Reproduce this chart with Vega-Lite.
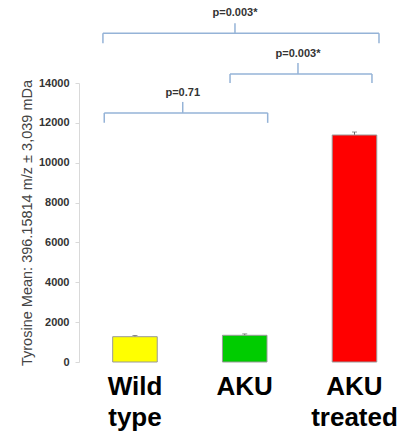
{
  "$schema": "https://vega.github.io/schema/vega-lite/v6.json",
  "autosize": "none",
  "width": 326,
  "height": 279,
  "padding": {"left": 79, "top": 83, "right": 0, "bottom": 73},
  "background": "white",
  "config": {
    "view": {"stroke": null},
    "font": "Liberation Sans",
    "axisY": {
      "grid": false,
      "domainColor": "#d9d9d9", "tickColor": "#d9d9d9", "tickSize": 4,
      "labelFont": "Liberation Sans", "labelFontSize": 11, "labelFontWeight": "bold", "labelColor": "#333333", "labelPadding": 6, "labelOverlap": false,
      "titleFont": "Liberation Sans", "titleFontSize": 14.5, "titleFontWeight": "normal", "titleColor": "#444444", "titlePadding": 4
    }
  },
  "datasets": {
    "bars": [
      {"group": "Wild type", "mean": 1270, "err": 60, "color": "Wild type"},
      {"group": "AKU", "mean": 1340, "err": 70, "color": "AKU"},
      {"group": "AKU treated", "mean": 11390, "err": 150, "color": "AKU treated"}
    ],
    "brackets": [
      {"x": -0.28, "x2": 1.209, "y": 12500, "y2": 12500},
      {"x": -0.28, "x2": -0.28, "y": 12500, "y2": 12000},
      {"x": 1.209, "x2": 1.209, "y": 12500, "y2": 12000},
      {"x": 0.435, "x2": 0.435, "y": 12500, "y2": 13050},
      {"x": 0.866, "x2": 2.159, "y": 14450, "y2": 14450},
      {"x": 0.866, "x2": 0.866, "y": 14450, "y2": 14000},
      {"x": 2.159, "x2": 2.159, "y": 14450, "y2": 14000},
      {"x": 1.485, "x2": 1.485, "y": 14450, "y2": 15000},
      {"x": -0.292, "x2": 2.223, "y": 16500, "y2": 16500},
      {"x": -0.292, "x2": -0.292, "y": 16500, "y2": 16000},
      {"x": 2.223, "x2": 2.223, "y": 16500, "y2": 16000},
      {"x": 0.911, "x2": 0.911, "y": 16500, "y2": 17000}
    ],
    "labels": [
      {"x": 0.435, "y": 13500, "text": "p=0.71"},
      {"x": 1.485, "y": 15450, "text": "p=0.003*"},
      {"x": 0.911, "y": 17500, "text": "p=0.003*"}
    ]
  },
  "layer": [
    {
      "data": {"name": "bars"},
      "encoding": {
        "x": {
          "field": "group",
          "type": "nominal",
          "sort": ["Wild type", "AKU", "AKU treated"],
          "scale": {"paddingInner": 0.594, "paddingOuter": 0.282, "align": 0.544},
          "axis": {
            "title": null,
            "domain": false,
            "ticks": false,
            "labelAngle": 0,
            "labelFont": "Liberation Sans",
            "labelFontSize": 26,
            "labelFontWeight": "bold",
            "labelColor": "#000000",
            "labelPadding": 11,
            "labelLineHeight": 31,
            "labelExpr": "split(datum.label, ' ')"
          }
        }
      },
      "layer": [
        {
          "mark": {"type": "errorbar", "ticks": {"size": 5, "color": "#666666"}, "rule": {"color": "#666666"}},
          "encoding": {
            "y": {"field": "mean", "type": "quantitative", "scale": {"domain": [0, 14000], "nice": false}, "title": "Tyrosine Mean: 396.15814 m/z ± 3,039 mDa",
              "axis": {"values": [0, 2000, 4000, 6000, 8000, 10000, 12000, 14000], "format": "d"}},
            "yError": {"field": "err"}
          }
        },
        {
          "mark": {"type": "bar", "stroke": "#999999", "strokeWidth": 1},
          "encoding": {
            "y": {"field": "mean", "type": "quantitative", "scale": {"domain": [0, 14000], "nice": false}, "title": "Tyrosine Mean: 396.15814 m/z ± 3,039 mDa",
              "axis": {"values": [0, 2000, 4000, 6000, 8000, 10000, 12000, 14000], "format": "d"}},
            "color": {
              "field": "color",
              "type": "nominal",
              "scale": {"domain": ["Wild type", "AKU", "AKU treated"], "range": ["#ffff00", "#00cc00", "#ff0000"]},
              "legend": null
            }
          }
        }
      ]
    },
    {
      "data": {"name": "brackets"},
      "mark": {"type": "rule", "color": "#95b3d7", "strokeWidth": 1.5},
      "encoding": {
        "x": {"field": "x", "type": "quantitative", "scale": {"domain": [-0.51, 2.46], "nice": false, "zero": false}, "axis": null},
        "x2": {"field": "x2"},
        "y": {"field": "y", "type": "quantitative", "scale": {"domain": [0, 14000], "nice": false}, "title": "Tyrosine Mean: 396.15814 m/z ± 3,039 mDa",
          "axis": {"values": [0, 2000, 4000, 6000, 8000, 10000, 12000, 14000], "format": "d"}},
        "y2": {"field": "y2"}
      }
    },
    {
      "data": {"name": "labels"},
      "mark": {"type": "text", "font": "Liberation Sans", "fontSize": 11, "fontWeight": "bold", "color": "#333333", "baseline": "middle", "align": "center"},
      "encoding": {
        "x": {"field": "x", "type": "quantitative", "scale": {"domain": [-0.51, 2.46], "nice": false, "zero": false}, "axis": null},
        "y": {"field": "y", "type": "quantitative", "scale": {"domain": [0, 14000], "nice": false}, "title": "Tyrosine Mean: 396.15814 m/z ± 3,039 mDa",
          "axis": {"values": [0, 2000, 4000, 6000, 8000, 10000, 12000, 14000], "format": "d"}},
        "text": {"field": "text"}
      }
    }
  ],
  "resolve": {"scale": {"x": "independent"}}
}
